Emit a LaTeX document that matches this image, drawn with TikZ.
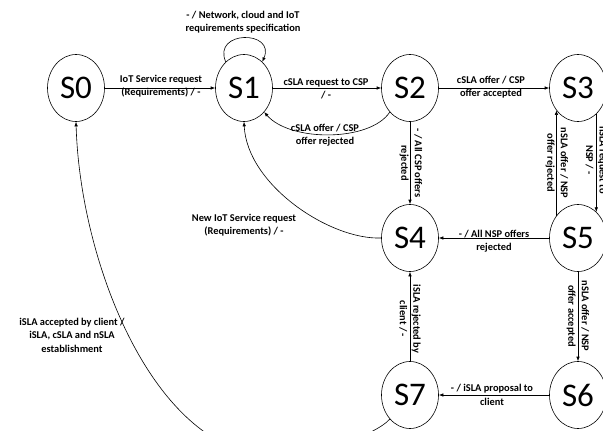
\documentclass[tikz,border=0pt]{standalone}
\usepackage{fontspec}
\setmainfont{Carlito}
\usetikzlibrary{arrows.meta,shapes.geometric}
\begin{document}
\begin{tikzpicture}[x=1pt,y=-1pt,
 state/.style={ellipse,draw,line width=0.6pt,minimum width=57pt,minimum height=67pt,inner sep=0pt,font=\fontsize{33}{33}\selectfont},
 lbl/.style={font=\bfseries\fontsize{10.4}{13.5}\selectfont,align=center,inner sep=0pt},
 edge/.style={line width=0.6pt,-{Latex[length=4.5pt,width=3.5pt]}}
]
\useasboundingbox (0,0) rectangle (603,431);
\clip (0,0) rectangle (603,431);
\node[state] (S0) at (76,88) {S0};
\node[state] (S1) at (244,88) {S1};
\node[state] (S2) at (410,88) {S2};
\node[state] (S3) at (578,88) {S3};
\node[state] (S4) at (410,238) {S4};
\node[state] (S5) at (578,238) {S5};
\node[state] (S6) at (578,395) {S6};
\node[state] (S7) at (410,395) {S7};

\draw[edge] (S0) -- (S1);
\draw[edge] (S1) -- (S2);
\draw[edge] (S2) -- (S3);
\draw[edge] (S1.125) .. controls (212,30) and (276,30) .. (S1.55);
\draw[edge] (S2.-130) .. controls (370,142) and (290,142) .. (S1.-50);
\draw[edge] (S2) -- (S4);
\draw[edge] (S3.-55) -- (S3.-55 |- S5.55);
\draw[edge] (S5.134) -- (S5.134 |- S3.-134);
\draw[edge] (S5) -- (S4);
\draw[edge] (S4.west) .. controls (330,240) and (247,185) .. (S1.south);
\draw[edge] (S5) -- (S6);
\draw[edge] (S6) -- (S7);
\draw[edge] (S7) -- (S4);
\draw[edge] (S7.-130) .. controls (375,436) and (304,461) .. (260,455) .. controls (150,440) and (80,260) .. (S0.south);

\node[lbl] (l01) at (161,86) {IoT Service request\\(Requirements) / -};
\node[lbl] (l11) at (243,22) {- / Network, cloud and IoT\\requirements specification};
\node[lbl] (l12) at (326,89) {cSLA request to CSP\\/ -};
\node[lbl] (l21) at (325,135) {cSLA offer / CSP\\offer rejected};
\node[lbl] (l23) at (491,87) {cSLA offer / CSP\\offer accepted};
\node[lbl,rotate=-90] (l24) at (411,163) {- / All CSP offers\\rejected};
\node[lbl,rotate=-90] (l35) at (596,160) {nSLA request to\\NSP / -};
\node[lbl,rotate=-90] (l53) at (557,163) {nSLA offer / NSP\\offer rejected};
\node[lbl] (l54) at (494,241) {- / All NSP offers\\rejected};
\node[lbl] (l41) at (244,225) {New IoT Service request\\(Requirements) / -};
\node[lbl,rotate=-90] (l56) at (578,316) {nSLA offer / NSP\\offer accepted};
\node[lbl] (l67) at (492,395) {- / iSLA proposal to\\client};
\node[lbl,rotate=-90] (l74) at (410,319) {iSLA rejected by\\client / -};
\node[lbl] (l70) at (72,335) {iSLA accepted by client /\\iSLA, cSLA and nSLA\\establishment};
\end{tikzpicture}
\end{document}
